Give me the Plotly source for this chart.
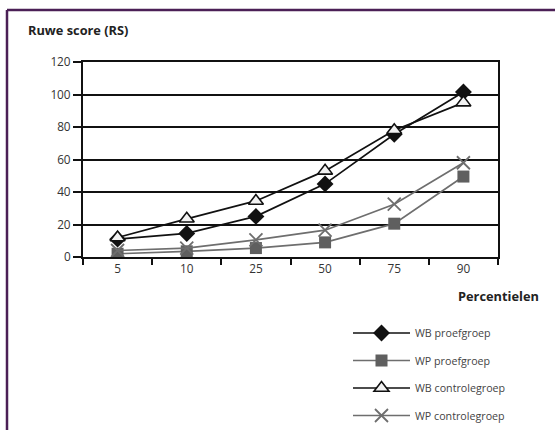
import plotly.graph_objects as go

percentielen = ["5", "10", "25", "50", "75", "90"]
wb_proef = [11, 14.5, 25, 45, 75.5, 101.5]
wp_proef = [2, 3.5, 5.5, 9, 20.5, 49.5]
wb_controle = [12, 23.5, 34.5, 53, 78, 95]
wp_controle = [4, 5.5, 10.5, 16.5, 32.5, 58]
y_ticks = [0, 20, 40, 60, 80, 100, 120]

FONT = "Open Sans"
W, H = 555, 430
L, R, T, B = 83, 57, 62, 173
PW, PH = W - L - R, H - T - B

def px_x(p):
    return (p - L) / PW

def px_y(p):
    return (H - B - p) / PH

fig = go.Figure()
fig.add_trace(go.Scatter(x=percentielen, y=wb_proef, name="WB proefgroep", legendgroup="a",
    mode="lines+markers", line=dict(color="#111111", width=1.7),
    marker=dict(symbol="diamond", size=13, color="#111111")))
fig.add_trace(go.Scatter(x=percentielen, y=wp_proef, name="WP proefgroep", legendgroup="b",
    mode="lines+markers", line=dict(color="#6e6e6e", width=1.7),
    marker=dict(symbol="square", size=12, color="#5f5f5f")))
fig.add_trace(go.Scatter(x=percentielen, y=wb_controle, name="WB controlegroep", legendgroup="c",
    mode="lines+markers", line=dict(color="#111111", width=1.7),
    marker=dict(symbol="triangle-up", size=13, color="#f2f2f2", line=dict(color="#111111", width=1.6))))
fig.add_trace(go.Scatter(x=percentielen, y=wp_controle, name="WP controlegroep", legendgroup="d",
    mode="lines+markers", line=dict(color="#6e6e6e", width=1.7),
    marker=dict(symbol="x-thin-open", size=13, color="#6e6e6e", line=dict(color="#6e6e6e", width=1.8))))

fig.update_layout(
    width=W, height=H,
    margin=dict(l=L, r=R, t=T, b=B, autoexpand=False),
    paper_bgcolor="white", plot_bgcolor="white",
    font=dict(family=FONT, size=11.5, color="#333333"),
    showlegend=True,
    legend=dict(xref="container", yref="container", x=348 / W, y=1 - 318.5 / H,
                xanchor="left", yanchor="top", itemwidth=57,
                font=dict(size=10.7, color="#444444"), tracegroupgap=8.5,
                bgcolor="rgba(0,0,0,0)"),
    xaxis=dict(type="category", range=[-0.5, 5.5], tickson="boundaries",
               ticks="outside", ticklen=6, tickwidth=2, tickcolor="#111111",
               showline=True, linecolor="#111111", linewidth=2, mirror=True,
               showgrid=False, tickfont=dict(size=11.8, color="#333333")),
    yaxis=dict(range=[0, 120], tickvals=y_ticks, ticks="outside", ticklen=8,
               tickwidth=2, tickcolor="#111111", showline=True, linecolor="#111111",
               linewidth=2, mirror=True, showgrid=True, gridcolor="#111111", gridwidth=1.6,
               zeroline=False, tickfont=dict(size=11.8, color="#333333")),
    annotations=[
        dict(text="<b>Ruwe score (RS)</b>", xref="paper", yref="paper", x=px_x(26), y=px_y(30),
             xanchor="left", yanchor="middle", showarrow=False, font=dict(size=12.8, color="#222222")),
        dict(text="<b>Percentielen</b>", xref="paper", yref="paper", x=px_x(541), y=px_y(296),
             xanchor="right", yanchor="middle", showarrow=False, font=dict(size=12.8, color="#222222")),
    ],
    shapes=[
        dict(type="line", xref="paper", yref="paper", x0=px_x(7), x1=px_x(W + 5), y0=px_y(10), y1=px_y(10),
             line=dict(color="#4b2056", width=2.5)),
        dict(type="line", xref="paper", yref="paper", x0=px_x(7), x1=px_x(7), y0=px_y(10), y1=px_y(H + 5),
             line=dict(color="#4b2056", width=2.5)),
    ],
)

fig.write_html("out.html")
